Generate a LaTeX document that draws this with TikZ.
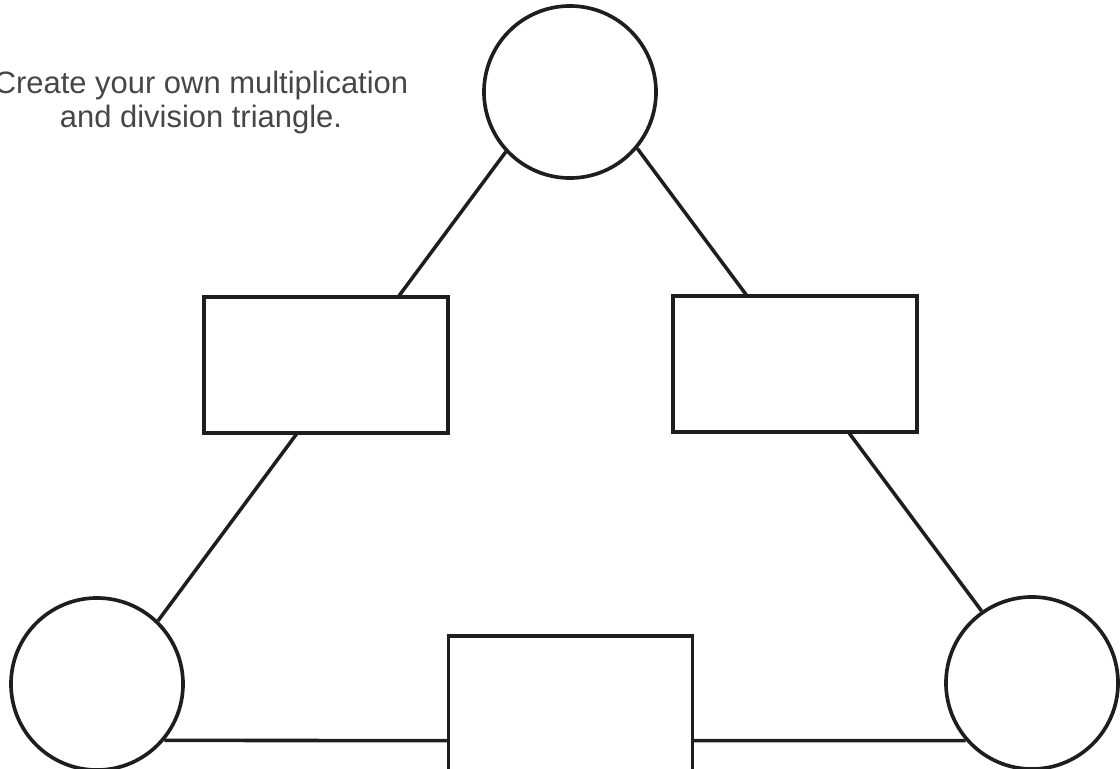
\documentclass[tikz,border=0pt]{standalone}
\usepackage{fontspec}
\setmainfont{Liberation Sans}
\usetikzlibrary{positioning}
\definecolor{linegray}{RGB}{30,30,30}
\definecolor{textgray}{RGB}{70,70,70}

\begin{document}
\begin{tikzpicture}[x=0.025cm,y=-0.025cm,
	corner/.style={circle,draw=linegray,line width=2.6pt,minimum size=4.3cm,inner sep=0pt},
	opbox/.style={rectangle,draw=linegray,fill=white,line width=2.6pt,minimum width=6.1cm,minimum height=3.4cm,inner sep=0pt},
	side/.style={draw=linegray,line width=2.5pt}]
		\useasboundingbox (0,0) rectangle (1120,769);
		\node[anchor=base,align=center,text=textgray,font=\fontsize{22}{23.5}\selectfont] (task) at (201,127) {Create your own multiplication\\and division triangle.};
		\node[corner] (top) at (570,92) {};
		\node[corner] (left) at (97,684) {};
		\node[corner] (right) at (1032,683) {};
		\draw[side] (top.223) -- (left.46);
		\draw[side] (top.320) -- (right.125);
		\draw[side] (left.320) -- (right.221);
		\node[opbox] (leftbox) at (326,365) {};
		\node[opbox] (rightbox) at (795,364) {};
		\node[opbox] (bottombox) at (570.5,704) {};
	\end{tikzpicture}
\end{document}
